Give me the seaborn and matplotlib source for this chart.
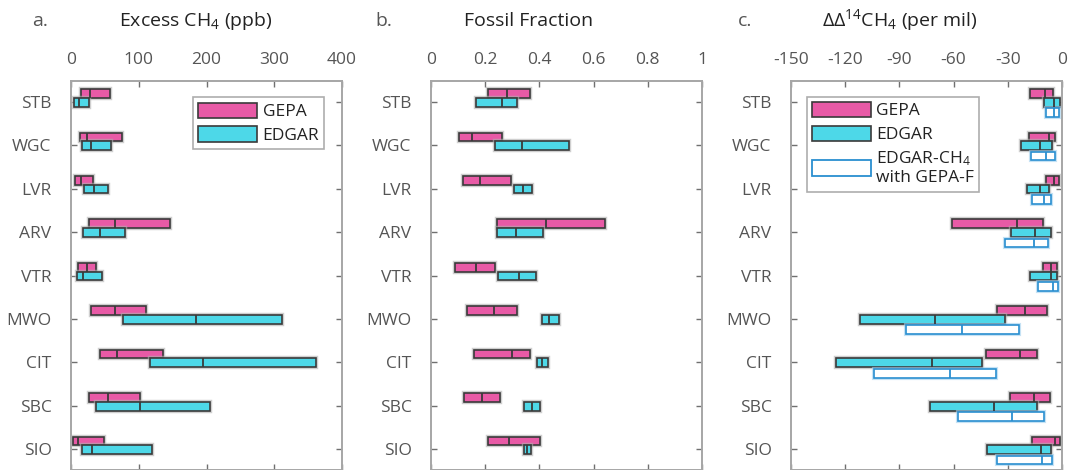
import numpy as np
import pandas as pd
import matplotlib
matplotlib.use("Agg")
import matplotlib.pyplot as plt
import matplotlib.patheffects as pe
from matplotlib.patches import Patch
import seaborn as sns

# ---------------- data ----------------
sites = ["STB", "WGC", "LVR", "ARV", "VTR", "MWO", "CIT", "SBC", "SIO"]

# panel a: Excess CH4 (ppb)
exc_gepa_lo  = [14.8, 13.3, 5.9, 27.0, 10.8, 30.0, 43.3, 26.1, 3.4]
exc_gepa_med = [28.6, 24.0, 14.3, 65.5, 23.2, 65.5, 68.5, 54.2, 10.8]
exc_gepa_hi  = [57.0, 75.9, 32.0, 145.8, 37.4, 110.8, 135.5, 102.5, 48.8]
exc_edgar_lo  = [4.9, 15.8, 19.7, 18.2, 8.4, 77.3, 117.2, 37.4, 16.3]
exc_edgar_med = [12.3, 29.6, 33.5, 42.4, 18.2, 184.2, 195.0, 102.0, 30.5]
exc_edgar_hi  = [27.0, 58.6, 54.2, 79.3, 46.3, 311.3, 361.0, 204.9, 119.2]

# panel b: Fossil Fraction
ff_gepa_lo  = [0.212, 0.103, 0.119, 0.243, 0.090, 0.131, 0.160, 0.123, 0.211]
ff_gepa_med = [0.282, 0.153, 0.179, 0.426, 0.165, 0.232, 0.300, 0.187, 0.289]
ff_gepa_hi  = [0.365, 0.261, 0.297, 0.642, 0.238, 0.317, 0.365, 0.255, 0.401]
ff_edgar_lo  = [0.165, 0.236, 0.308, 0.243, 0.249, 0.408, 0.390, 0.345, 0.342]
ff_edgar_med = [0.261, 0.334, 0.341, 0.313, 0.326, 0.437, 0.411, 0.372, 0.355]
ff_edgar_hi  = [0.319, 0.511, 0.371, 0.413, 0.389, 0.472, 0.433, 0.404, 0.368]

# panel c: DeltaDelta 14CH4 (per mil)
dd_gepa_lo  = [-17.7, -18.3, -8.7, -61.1, -10.3, -36.0, -42.3, -28.8, -16.8]
dd_gepa_med = [-9.6, -7.0, -4.4, -25.1, -6.3, -20.5, -23.3, -15.5, -3.7]
dd_gepa_hi  = [-5.2, -4.1, -1.8, -10.7, -3.0, -8.5, -14.0, -6.8, -1.3]
dd_edgar_lo  = [-10.0, -22.5, -19.6, -28.3, -17.9, -111.6, -124.9, -73.0, -41.6]
dd_edgar_med = [-4.6, -12.4, -12.0, -15.1, -6.1, -70.4, -71.7, -37.9, -11.5]
dd_edgar_hi  = [-1.3, -5.7, -7.4, -6.3, -3.0, -31.8, -44.5, -13.9, -6.1]
dd_egf_lo  = [-8.9, -17.4, -16.6, -31.8, -13.3, -86.5, -104.2, -57.8, -36.2]
dd_egf_med = [-4.2, -8.9, -10.2, -15.7, -5.2, -55.6, -61.9, -27.5, -10.9]
dd_egf_hi  = [-1.7, -4.1, -6.1, -7.9, -2.2, -23.6, -36.8, -9.8, -5.5]

xticks_a = [0, 100, 200, 300, 400]
xticks_b = [0, 0.2, 0.4, 0.6, 0.8, 1]
xticks_c = [-150, -120, -90, -60, -30, 0]

# ---------------- style ----------------
sns.set_theme(style="ticks")
plt.rcParams["font.family"] = ["Open Sans", "DejaVu Sans"]
plt.rcParams["mathtext.fontset"] = "custom"
plt.rcParams["mathtext.rm"] = "Open Sans"
plt.rcParams["mathtext.it"] = "Open Sans"

PINK = "#e85aa6"
CYAN = "#4dd8e8"
BLUE = "#2a8fd0"
EDGE = "#3a3a3a"
SPINE = "#a6a6a6"
TXT = "#555555"

halo = [pe.Stroke(linewidth=3.2, foreground="#b0b0b0", alpha=0.6), pe.Normal()]
halo_b = [pe.Stroke(linewidth=3.0, foreground="#9fd0ee", alpha=0.6), pe.Normal()]

fig = plt.figure(figsize=(10.79, 4.70), dpi=100)
W = 271 / 1079
H = 389 / 470
axA = fig.add_axes([71 / 1079, 0.0, W, H])
axB = fig.add_axes([431 / 1079, 0.0, W, H])
axC = fig.add_axes([791 / 1079, 0.0, W, H])

ypos = np.arange(1, len(sites) + 1)
BH = 0.2


def draw_series(ax, lo, med, hi, off, face, edge, pe_list, medcol):
    df = pd.DataFrame({"y": ypos + off, "lo": lo, "med": med, "hi": hi})
    bars = ax.barh(df["y"], df["hi"] - df["lo"], left=df["lo"], height=BH,
                   color=face, edgecolor=edge, linewidth=1.2, zorder=3)
    for b in bars:
        b.set_path_effects(pe_list)
    ax.vlines(df["med"], df["y"] - BH / 2, df["y"] + BH / 2, color=medcol,
              linewidth=1.3, zorder=4)


def style_axes(ax, xlim, xticks, xlabels):
    ax.set_xlim(*xlim)
    ax.set_ylim(9.48, 0.52)
    ax.set_xticks(xticks)
    ax.set_xticklabels(xlabels)
    ax.set_yticks(ypos)
    ax.set_yticklabels(sites)
    ax.xaxis.tick_top()
    ax.tick_params(axis="both", which="both", direction="in", length=4,
                   width=1.0, color="#707070", top=True, bottom=True,
                   left=True, right=True, labelsize=12.5, labelcolor=TXT)
    ax.tick_params(axis="x", pad=9)
    ax.tick_params(axis="y", pad=14)
    for s in ax.spines.values():
        s.set_color(SPINE)
        s.set_linewidth(1.4)
    ax.grid(False)


# panel a
draw_series(axA, exc_gepa_lo, exc_gepa_med, exc_gepa_hi, -0.19, PINK, EDGE, halo, EDGE)
draw_series(axA, exc_edgar_lo, exc_edgar_med, exc_edgar_hi, 0.01, CYAN, EDGE, halo, EDGE)
style_axes(axA, (0, 400), xticks_a, ["0", "100", "200", "300", "400"])

# panel b
draw_series(axB, ff_gepa_lo, ff_gepa_med, ff_gepa_hi, -0.19, PINK, EDGE, halo, EDGE)
draw_series(axB, ff_edgar_lo, ff_edgar_med, ff_edgar_hi, 0.01, CYAN, EDGE, halo, EDGE)
style_axes(axB, (0, 1), xticks_b, ["0", "0.2", "0.4", "0.6", "0.8", "1"])

# panel c
draw_series(axC, dd_gepa_lo, dd_gepa_med, dd_gepa_hi, -0.19, PINK, EDGE, halo, EDGE)
draw_series(axC, dd_edgar_lo, dd_edgar_med, dd_edgar_hi, 0.01, CYAN, EDGE, halo, EDGE)
draw_series(axC, dd_egf_lo, dd_egf_med, dd_egf_hi, 0.25, "white", BLUE, halo_b, BLUE)
style_axes(axC, (-150, 0), xticks_c, [str(v) for v in xticks_c])

# legends
def handles(with_egf):
    h = [Patch(facecolor=PINK, edgecolor=EDGE, linewidth=1.2, label="GEPA"),
         Patch(facecolor=CYAN, edgecolor=EDGE, linewidth=1.2, label="EDGAR")]
    if with_egf:
        h.append(Patch(facecolor="white", edgecolor=BLUE, linewidth=1.3,
                       label="EDGAR-CH$_4$\nwith GEPA-F"))
    return h

legA = axA.legend(handles=handles(False), loc="upper right",
                  bbox_to_anchor=(0.935, 0.958), fontsize=12.5, frameon=True,
                  fancybox=False, edgecolor="#999999", handlelength=3.4,
                  handleheight=1.0, handletextpad=0.3, borderpad=0.3,
                  labelspacing=0.35, borderaxespad=0)
legA.get_frame().set_linewidth(1.2)
for t in legA.get_texts():
    t.set_color("#222222")

legC = axC.legend(handles=handles(True), loc="upper left",
                  bbox_to_anchor=(0.058, 0.96), fontsize=12.5, frameon=True,
                  fancybox=False, edgecolor="#999999", handlelength=3.4,
                  handleheight=1.0, handletextpad=0.3, borderpad=0.3,
                  labelspacing=0.35, borderaxespad=0)
legC.get_frame().set_linewidth(1.2)
for t in legC.get_texts():
    t.set_color("#222222")

# titles
ty = 1 - 26 / 470
fs = 14
fig.text(32 / 1079, ty, "a.", fontsize=fs, color=TXT, va="baseline")
fig.text(119 / 1079, ty, "Excess CH$_4$ (ppb)", fontsize=fs, color="#222222", va="baseline")
fig.text(375 / 1079, ty, "b.", fontsize=fs, color=TXT, va="baseline")
fig.text(464 / 1079, ty, "Fossil Fraction", fontsize=fs, color="#222222", va="baseline")
fig.text(738 / 1079, ty, "c.", fontsize=fs, color=TXT, va="baseline")
fig.text(822 / 1079, ty, "$\\Delta\\Delta^{14}$CH$_4$ (per mil)", fontsize=fs,
         color="#222222", va="baseline")

fig.savefig("out.png", dpi=100)
